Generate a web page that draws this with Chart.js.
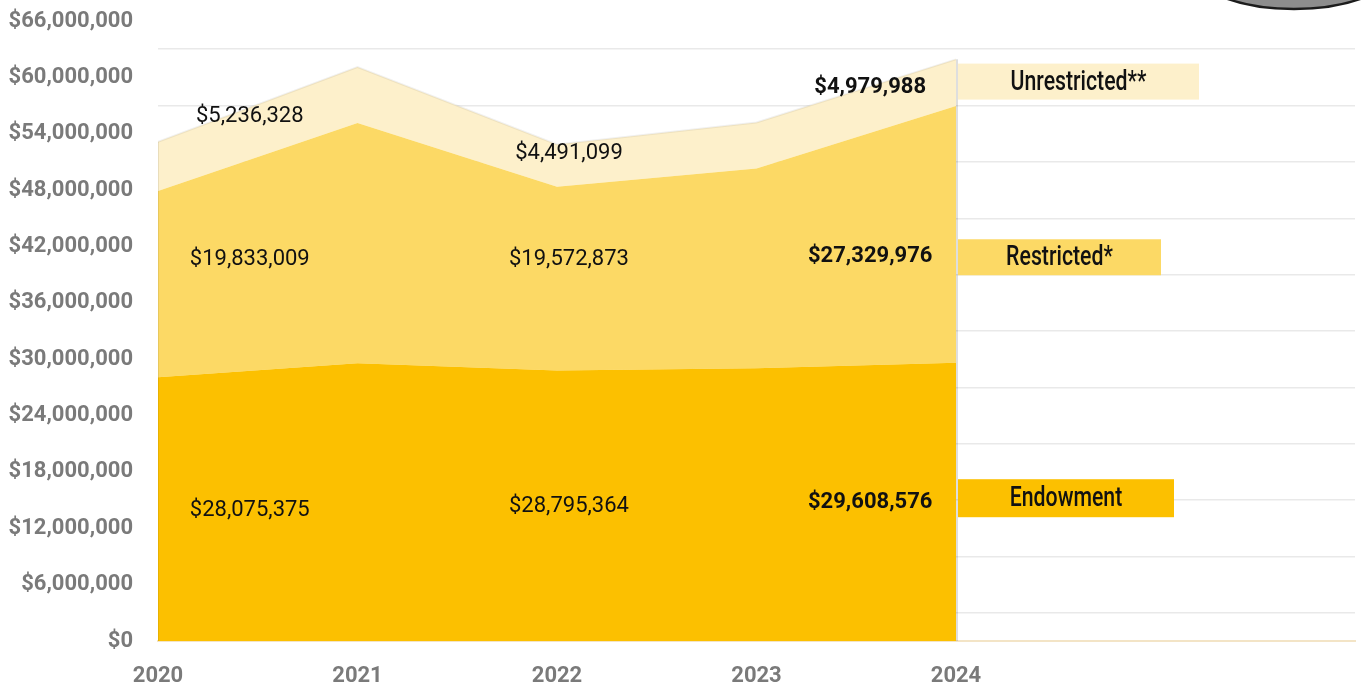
<!DOCTYPE html>
<html>
<head>
<meta charset="utf-8">
<script src="https://cdn.jsdelivr.net/npm/chart.js@4/dist/chart.umd.min.js"></script>
<style>
  html, body { margin: 0; padding: 0; background: #fff; }
  #wrap { width: 1361px; height: 686px; }
</style>
</head>
<body>
<div id="wrap"><canvas id="fundsChart"></canvas></div>
<script>
// data
const years = [2020, 2021, 2022, 2023, 2024];
const endowment = [28075375, 29570000, 28795364, 29040000, 29608576];
const restricted = [19833009, 25570000, 19572873, 21260000, 27329976];
const unrestricted = [5236328, 5960000, 4491099, 4900000, 4979988];
const yTicks = [0, 6e6, 12e6, 18e6, 24e6, 30e6, 36e6, 42e6, 48e6, 54e6, 60e6, 66e6];

// which values are printed on the chart, and where (data units)
const labelYears = [2020, 2022, 2024];
const labelX = [2020.46, 2022.06, 2023.57];
const unrestrictedLabelY = [55.85e6, 51.9e6, 58.94e6];
const restrictedLabelY = [40.64e6, 40.64e6, 40.96e6];
const endowmentLabelY = [13.94e6, 14.36e6, 14.79e6];

const seriesNames = ["Endowment", "Restricted*", "Unrestricted**"];
const seriesColors = ["#FCC000", "#FCD965", "#FDF0CB"];

const fmt = v => "$" + v.toLocaleString("en-US");
const pts = arr => arr.map((v, i) => ({ x: years[i], y: v }));

// value labels + side legend boxes
const labelsPlugin = {
  id: "labels",
  afterDatasetsDraw(chart) {
    const { ctx, scales: { x, y } } = chart;
    const last = years.length - 1;

    // edge shadows of the stacked block
    const topLast = endowment[last] + restricted[last] + unrestricted[last];
    const topFirst = endowment[0] + restricted[0] + unrestricted[0];
    ctx.save();
    ctx.strokeStyle = "rgba(0,0,0,0.13)";
    ctx.lineWidth = 2;
    ctx.beginPath();
    ctx.moveTo(x.getPixelForValue(2024) + 1, y.getPixelForValue(topLast));
    ctx.lineTo(x.getPixelForValue(2024) + 1, y.getPixelForValue(0));
    ctx.stroke();
    ctx.strokeStyle = "rgba(0,0,0,0.08)";
    ctx.lineWidth = 1;
    ctx.beginPath();
    ctx.moveTo(x.getPixelForValue(2020) + 0.5, y.getPixelForValue(topFirst));
    ctx.lineTo(x.getPixelForValue(2020) + 0.5, y.getPixelForValue(0));
    ctx.stroke();

    ctx.fillStyle = "#111";
    ctx.textAlign = "center";
    ctx.textBaseline = "middle";
    const groups = [
      [endowment, endowmentLabelY],
      [restricted, restrictedLabelY],
      [unrestricted, unrestrictedLabelY]
    ];
    groups.forEach(([vals, ys]) => {
      labelYears.forEach((yr, k) => {
        const v = vals[years.indexOf(yr)];
        ctx.font = (yr === 2024 ? "bold " : "") + "22px Roboto";
        ctx.fillText(fmt(v), x.getPixelForValue(labelX[k]), y.getPixelForValue(ys[k]));
      });
    });

    // legend boxes to the right of 2024
    const boxes = [
      { mid: 15.2e6, w: 216, h: 38, text: seriesNames[0] },
      { mid: 40.85e6, w: 203, h: 36, text: seriesNames[1] },
      { mid: 59.55e6, w: 241, h: 36, text: seriesNames[2] }
    ];
    const bx = x.getPixelForValue(2024) + 2;
    boxes.forEach((b, i) => {
      const cy = y.getPixelForValue(b.mid);
      ctx.fillStyle = seriesColors[i];
      ctx.fillRect(bx, cy - b.h / 2, b.w, b.h);
      ctx.save();
      ctx.translate(bx + b.w / 2, cy + 1);
      ctx.scale(0.76, 1);
      ctx.fillStyle = "#111";
      ctx.font = "500 28px Roboto";
      ctx.fillText(b.text, 0, 0);
      ctx.restore();
    });
    ctx.restore();
  },
  afterDraw(chart) {
    // cut-off badge at the top right corner
    const ctx = chart.ctx;
    ctx.save();
    ctx.beginPath();
    ctx.ellipse(1294, -31, 100, 40, 0, 0, Math.PI * 2);
    ctx.fillStyle = "#8d8d8d";
    ctx.fill();
    ctx.lineWidth = 2.5;
    ctx.strokeStyle = "#1c1c1c";
    ctx.stroke();
    ctx.restore();
  }
};

new Chart(document.getElementById("fundsChart"), {
  type: "line",
  data: {
    datasets: [
      { label: seriesNames[0], data: pts(endowment), backgroundColor: seriesColors[0], fill: "origin" },
      { label: seriesNames[1], data: pts(restricted), backgroundColor: seriesColors[1], fill: "-1" },
      { label: seriesNames[2], data: pts(unrestricted), backgroundColor: seriesColors[2], fill: "-1",
        borderColor: "rgba(0,0,0,0.06)", borderWidth: 2 }
    ]
  },
  options: {
    responsive: true,
    maintainAspectRatio: false,
    animation: false,
    layout: { padding: { top: 21, right: 6, left: 0, bottom: 0 } },
    elements: {
      line: { tension: 0, borderWidth: 0, borderColor: "transparent" },
      point: { radius: 0, hoverRadius: 0 }
    },
    plugins: {
      legend: { display: false },
      tooltip: { enabled: false }
    },
    scales: {
      x: {
        type: "linear",
        min: 2020,
        max: 2026,
        afterFit: s => { s.height = 45; },
        afterBuildTicks: s => { s.ticks = years.map(v => ({ value: v })); },
        grid: { display: false },
        border: { color: "#F3E4C6", width: 2 },
        ticks: {
          padding: 14,
          color: "#7a7a7a",
          font: { family: "Roboto", size: 22, weight: "bold" },
          callback: v => String(v)
        }
      },
      y: {
        stacked: true,
        min: 0,
        max: 66e6,
        afterFit: s => { s.width = 158; s.paddingTop = 0; s.paddingBottom = 0; },
        afterBuildTicks: s => {
          // ticks every 3M: labels on the 6M steps, grid lines between them
          const t = [];
          for (let v = 0; v <= 66e6; v += 3e6) t.push({ value: v });
          s.ticks = t;
        },
        border: { display: false },
        grid: {
          drawTicks: false,
          lineWidth: 1.5,
          color: c => (yTicks.includes(c.tick.value) ? "transparent" : "#E9E9E9")
        },
        ticks: {
          autoSkip: false,
          padding: 25,
          color: "#7a7a7a",
          font: { family: "Roboto", size: 22, weight: "bold" },
          callback: v => (yTicks.includes(v) ? fmt(v) : "")
        }
      }
    }
  },
  plugins: [labelsPlugin]
});
</script>
</body>
</html>
